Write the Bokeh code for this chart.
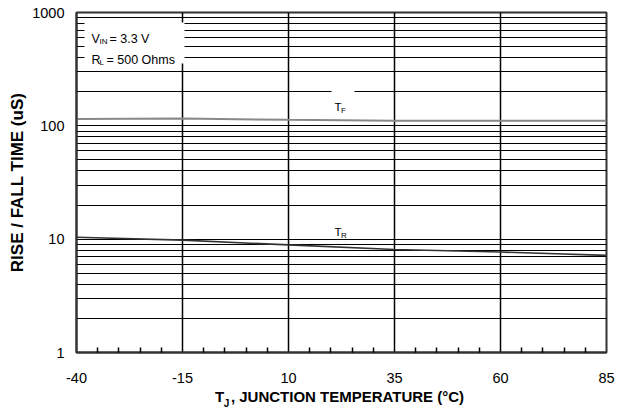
from bokeh.plotting import figure
from bokeh.models import (FixedTicker, NumeralTickFormatter, Label, BoxAnnotation,
                          Range1d, LinearAxis)
from bokeh.embed import file_html
from bokeh.resources import INLINE

# ---- data ----
temps = [-40, -15, 10, 35, 60, 85]
t_fall = [115, 116, 113, 111, 111, 111]
t_rise = [10.4, 9.8, 8.9, 8.1, 7.7, 7.2]
x_ticks = [-40, -15, 10, 35, 60, 85]
x_tick_labels = ["-40", "-15", "10", "35", "60", "85"]
x_minor = [-35, -30, -25, -20, -10, -5, 0, 5, 15, 20, 25, 30, 40, 45, 50, 55, 65, 70, 75, 80]
y_ticks = [1, 10, 100, 1000]
y_grid = [m * d for d in (1, 10, 100) for m in range(1, 10)] + [1000]

FONT = "Liberation Sans"

p = figure(width=626, height=414, y_axis_type="log",
           x_range=Range1d(-40, 85), y_range=Range1d(1, 1000),
           output_backend="svg", toolbar_location=None,
           min_border_left=76, min_border_right=20, min_border_top=12, min_border_bottom=62)

p.background_fill_color = "white"
p.border_fill_color = "white"
p.outline_line_color = "#333333"
p.outline_line_width = 2

# axes
p.xaxis.ticker = FixedTicker(ticks=x_ticks, minor_ticks=x_minor)
p.xaxis.major_label_overrides = dict(zip(x_ticks, x_tick_labels))
p.yaxis.ticker = FixedTicker(ticks=y_ticks)
p.yaxis.formatter = NumeralTickFormatter(format="0")
for ax in (p.xaxis[0], p.yaxis[0]):
    ax.axis_line_color = "#333333"
    ax.axis_line_width = 2
    ax.major_tick_in = 0
    ax.major_tick_out = 0
    ax.major_label_text_font = FONT
    ax.major_label_text_font_size = "14.5px"
    ax.major_label_text_color = "black"
p.xaxis.minor_tick_in = 5
p.xaxis.minor_tick_out = 0
p.xaxis.minor_tick_line_color = "black"
p.xaxis.minor_tick_line_width = 1.5
p.yaxis.minor_tick_in = 0
p.yaxis.minor_tick_out = 0
p.xaxis.major_label_standoff = 20
p.yaxis.major_label_standoff = 12

p.yaxis.axis_label = "RISE / FALL TIME (uS)"
p.yaxis.axis_label_text_font = FONT
p.yaxis.axis_label_text_font_style = "bold"
p.yaxis.axis_label_text_font_size = "17px"
p.yaxis.axis_label_text_color = "black"
p.yaxis.axis_label_standoff = 2

# grids
p.xgrid.ticker = FixedTicker(ticks=x_ticks)
p.xgrid.grid_line_color = "black"
p.xgrid.grid_line_width = 1.5
p.ygrid.ticker = FixedTicker(ticks=y_grid)
p.ygrid.grid_line_color = "black"
p.ygrid.grid_line_width = 1.2

# curves
p.line(temps, t_fall, line_color="#888888", line_width=2)
p.line(temps, t_rise, line_color="#333333", line_width=1.6)

# pixel -> data helpers (for annotation placement)
def dx(px):
    return -40 + (px - 76) * 125.0 / 530.0

def dy(py):
    return 10 ** ((352 - py) * 3.0 / 340.0)

# legend box
p.add_layout(BoxAnnotation(left=dx(84), right=dx(184), bottom=dy(63), top=dy(22),
                           fill_color="white", fill_alpha=1, line_alpha=0))
# TF label box
p.add_layout(BoxAnnotation(left=dx(331), right=dx(354), bottom=dy(112), top=dy(86),
                           fill_color="white", fill_alpha=1, line_alpha=0))

def lab(px, py, text, size, style="normal"):
    p.add_layout(Label(x=dx(px), y=dy(py), text=text, text_font=FONT,
                       text_font_size=size, text_font_style=style,
                       text_color="black", text_baseline="alphabetic", text_align="left"))

# legend text
lab(91, 38, "V", "12.5px")
lab(99, 40.5, "IN", "8px")
lab(109, 38, "= 3.3 V", "12.5px")
lab(91, 59, "R", "12.5px")
lab(99, 61.5, "L", "8px")
lab(106, 59, "= 500 Ohms", "12.5px")

# curve labels
lab(334, 106.5, "T", "11.5px")
lab(340.5, 109.5, "F", "8px")
lab(334, 231, "T", "11.5px")
lab(340.5, 234.5, "R", "8px")

# x axis title built from extra label-only axes (T, subscript J, rest); px = text centre
def text_axis(pieces, size, standoff):
    ticks = [dx(px) for px, _ in pieces]
    ax = LinearAxis(ticker=FixedTicker(ticks=ticks, minor_ticks=[]),
                    major_label_overrides={t: s for t, (_, s) in zip(ticks, pieces)})
    ax.axis_line_color = None
    ax.major_tick_line_color = None
    ax.minor_tick_line_color = None
    ax.major_tick_in = 0
    ax.major_tick_out = 0
    ax.major_label_standoff = standoff
    ax.major_label_text_font = FONT
    ax.major_label_text_font_style = "bold"
    ax.major_label_text_font_size = size
    ax.major_label_text_color = "black"
    p.add_layout(ax, "below")
    return ax

text_axis([(219, "T"), (347, ", JUNCTION TEMPERATURE (°C)")], "15px", 2)
text_axis([(226, "J")], "10px", -10)

open("out.html", "w").write(file_html(p, INLINE))
